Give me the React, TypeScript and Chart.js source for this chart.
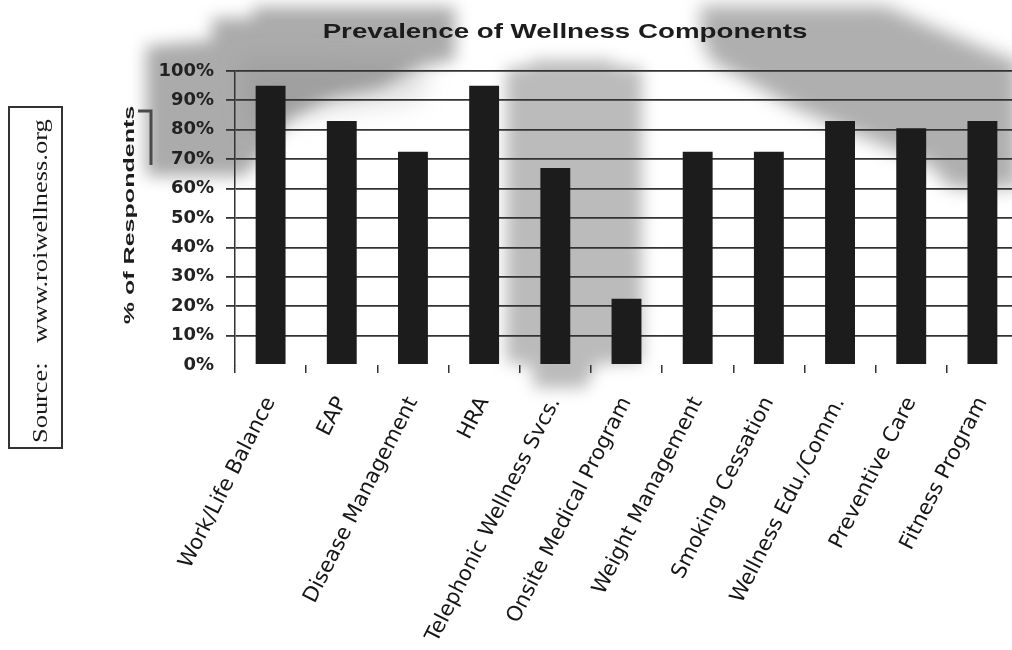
import React, { useEffect, useRef } from "react";
import { Chart, registerables } from "chart.js";

Chart.register(...registerables);

// Survey categories and share of respondents offering each component (%)
const categories = [
  "Work/Life Balance",
  "EAP",
  "Disease Management",
  "HRA",
  "Telephonic Wellness Svcs.",
  "Onsite Medical Program",
  "Weight Management",
  "Smoking Cessation",
  "Wellness Edu./Comm.",
  "Preventive Care",
  "Fitness Program",
];
const respondentShare = [95, 83, 72.5, 95, 67, 22.5, 72.5, 72.5, 83, 80.5, 83];

const yMin = 0;
const yMax = 100;
const yStep = 10;

const chartTitle = "Prevalence of Wellness Components";
const yAxisTitle = "% of Respondents";
const sourceLabel = "Source:";
const sourceUrl = "www.roiwellness.org";

// Soft grey smudges of the photocopied page, painted underneath everything
const smudges: { color: string; blur: number; pts: [number, number][] }[] = [
  {
    color: "rgba(110,110,110,0.58)",
    blur: 8,
    pts: [
      [253, 7], [455, 7], [455, 60], [420, 66], [380, 88], [330, 98],
      [290, 118], [245, 176], [146, 176], [146, 46], [212, 40], [212, 18], [253, 18],
    ],
  },
  {
    color: "rgba(120,120,120,0.22)",
    blur: 12,
    pts: [[240, 60], [430, 62], [420, 100], [330, 112], [250, 130]],
  },
  {
    color: "rgba(120,120,120,0.5)",
    blur: 8,
    pts: [
      [532, 60], [612, 60], [614, 66], [642, 68], [642, 362], [596, 364],
      [586, 388], [534, 388], [532, 366], [506, 362], [506, 68], [530, 66],
    ],
  },
  {
    color: "rgba(110,110,110,0.55)",
    blur: 9,
    pts: [
      [700, 6], [885, 6], [940, 30], [1000, 55], [1018, 60], [1018, 188],
      [950, 188], [930, 165], [860, 136], [790, 106], [742, 78], [712, 62], [702, 40],
    ],
  },
];

const smudgePlugin = {
  id: "smudges",
  beforeDraw(chart: Chart) {
    const ctx = chart.ctx;
    for (const s of smudges) {
      ctx.save();
      ctx.filter = `blur(${s.blur}px)`;
      ctx.fillStyle = s.color;
      ctx.beginPath();
      s.pts.forEach(([x, y], i) => (i ? ctx.lineTo(x, y) : ctx.moveTo(x, y)));
      ctx.closePath();
      ctx.fill();
      ctx.restore();
    }
  },
};

function stretchedText(
  ctx: CanvasRenderingContext2D,
  text: string,
  x: number,
  y: number,
  font: string,
  stretch: number,
  angle: number,
  align: CanvasTextAlign,
  baseline: CanvasTextBaseline
) {
  ctx.save();
  ctx.translate(x, y);
  ctx.rotate(angle);
  ctx.scale(stretch, 1);
  ctx.font = font;
  ctx.textAlign = align;
  ctx.textBaseline = baseline;
  ctx.fillText(text, 0, 0);
  ctx.restore();
}

// Title, rotated axis title and the boxed source note
const textPlugin = {
  id: "pageText",
  afterDraw(chart: Chart) {
    const ctx = chart.ctx;
    ctx.save();
    ctx.fillStyle = "#1c1c1c";
    stretchedText(ctx, chartTitle, 565, 38, "bold 21px 'Liberation Sans'", 1.32, 0, "center", "alphabetic");
    stretchedText(ctx, yAxisTitle, 130, 215, "bold 15px 'Liberation Sans'", 1.67, -Math.PI / 2, "center", "middle");

    ctx.strokeStyle = "#333";
    ctx.lineWidth = 2;
    ctx.strokeRect(9, 107, 53, 341);
    ctx.fillStyle = "#1a1a1a";
    stretchedText(ctx, sourceLabel, 47, 443, "22px 'Liberation Serif'", 1.2, -Math.PI / 2, "left", "alphabetic");
    stretchedText(ctx, sourceUrl, 47, 343, "22px 'Liberation Serif'", 1.2, -Math.PI / 2, "left", "alphabetic");

    ctx.strokeStyle = "#4a4a4a";
    ctx.lineWidth = 3;
    ctx.beginPath();
    ctx.moveTo(138, 111);
    ctx.lineTo(151, 111);
    ctx.lineTo(151, 165);
    ctx.stroke();
    ctx.restore();
  },
};

export default function App() {
  const canvasRef = useRef<HTMLCanvasElement | null>(null);

  useEffect(() => {
    if (!canvasRef.current) return;
    const chart = new Chart(canvasRef.current, {
      type: "bar",
      data: {
        labels: categories,
        datasets: [
          {
            data: respondentShare,
            backgroundColor: "#1c1c1c",
            borderWidth: 0,
            barPercentage: 0.42,
            categoryPercentage: 1,
          },
        ],
      },
      options: {
        responsive: false,
        animation: false,
        devicePixelRatio: 1,
        layout: { padding: { top: 71, left: 0, right: 0, bottom: 0 } },
        plugins: {
          legend: { display: false },
          title: { display: false },
          tooltip: { enabled: false },
        },
        scales: {
          x: {
            grid: {
              display: true,
              drawOnChartArea: false,
              drawTicks: true,
              tickLength: 8,
              color: "#333",
              lineWidth: 1.5,
              offset: true,
            },
            border: { display: false },
            ticks: {
              autoSkip: false,
              minRotation: 63,
              maxRotation: 63,
              padding: 20,
              color: "#161616",
              font: { family: "'DejaVu Sans'", size: 21 },
            },
            afterFit(scale: any) {
              scale.height = 285;
              scale.paddingLeft = 0;
              scale.paddingRight = 0;
            },
          },
          y: {
            min: yMin,
            max: yMax,
            ticks: {
              stepSize: yStep,
              padding: 12,
              color: "#222",
              font: { family: "'DejaVu Sans'", size: 18, weight: "bold" },
              callback: (v: any) => `${v}%`,
            },
            grid: {
              color: (c: any) => (c.tick && c.tick.value === 0 ? "rgba(0,0,0,0)" : "#333"),
              lineWidth: 1.8,
              tickLength: 9,
            },
            border: { display: true, color: "#333", width: 1.5 },
            afterFit(scale: any) {
              scale.width = 235;
              scale.paddingTop = 0;
              scale.paddingBottom = 0;
            },
          },
        },
      },
      plugins: [smudgePlugin, textPlugin],
    });
    return () => chart.destroy();
  }, []);

  return (
    <div
      style={{
        position: "fixed",
        left: 0,
        top: 0,
        width: 1012,
        height: 650,
        overflow: "hidden",
        background: "#fff",
      }}
    >
      <canvas
        ref={canvasRef}
        width={1018}
        height={650}
        style={{ display: "block", width: 1018, height: 650 }}
      />
    </div>
  );
}
